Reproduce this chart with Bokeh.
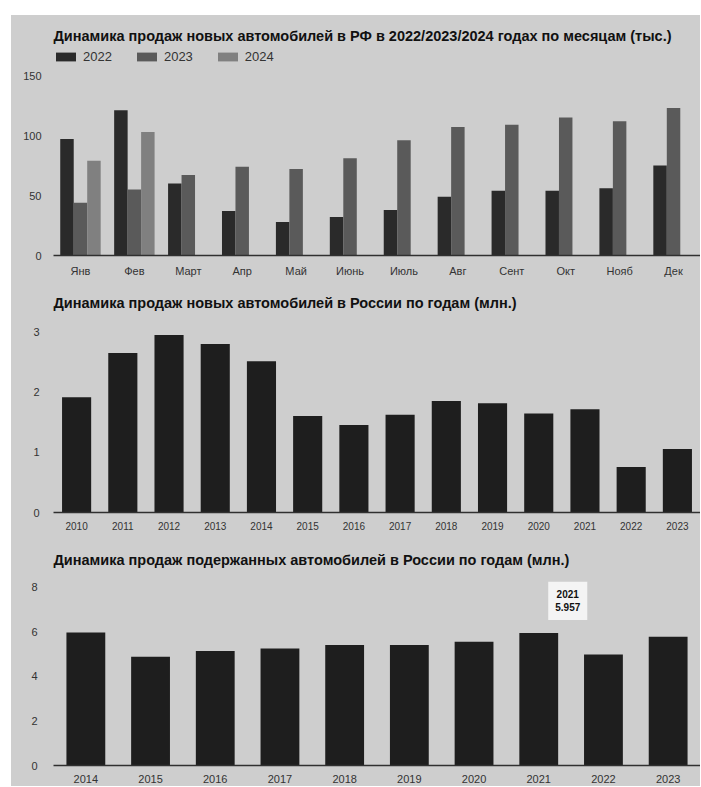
import math
from bokeh.plotting import figure
from bokeh.models import (ColumnDataSource, FactorRange, Range1d, FixedTicker,
                          Legend, LegendItem, Title, Label, Spacer)
from bokeh.layouts import column, row
from bokeh.transform import dodge
from bokeh.embed import file_html
from bokeh.resources import INLINE

# ---------------- data ----------------
months = ["Янв", "Фев", "Март", "Апр", "Май", "Июнь", "Июль", "Авг", "Сент", "Окт", "Нояб", "Дек"]
sales_2022 = [97, 121, 60, 37, 28, 32, 38, 49, 54, 54, 56, 75]
sales_2023 = [44, 55, 67, 74, 72, 81, 96, 107, 109, 115, 112, 123]
sales_2024 = [79, 103, float("nan"), float("nan"), float("nan"), float("nan"),
              float("nan"), float("nan"), float("nan"), float("nan"), float("nan"), float("nan")]
ticks_1 = [0, 50, 100, 150]

years_new = ["2010", "2011", "2012", "2013", "2014", "2015", "2016",
             "2017", "2018", "2019", "2020", "2021", "2022", "2023"]
new_sales = [1.92, 2.66, 2.96, 2.81, 2.52, 1.61, 1.46, 1.63, 1.86, 1.82, 1.65, 1.72, 0.76, 1.06]
ticks_2 = [0, 1, 2, 3]

years_used = ["2014", "2015", "2016", "2017", "2018", "2019", "2020", "2021", "2022", "2023"]
used_sales = [5.97, 4.89, 5.14, 5.26, 5.41, 5.41, 5.56, 5.957, 4.99, 5.78]
ticks_3 = [0, 2, 4, 6, 8]
tooltip_year = "2021"

title_1 = "Динамика продаж новых автомобилей в РФ в 2022/2023/2024 годах по месяцам (тыс.)"
title_2 = "Динамика продаж новых автомобилей в России по годам (млн.)"
title_3 = "Динамика продаж подержанных автомобилей в России по годам (млн.)"

# ---------------- style ----------------
BG = "#cecece"
FONT = "Liberation Sans"
C_DARK = "#2a2a2a"
C_MID = "#5a5a5a"
C_LIGHT = "#808080"
C_BAR = "#1e1e1e"
TXT = "#333333"
W = 689


def base(height, y_end, ticks, factors, b_top, b_bottom, xfs, ystand):
    p = figure(width=W, height=height,
               x_range=FactorRange(*factors, range_padding=0, factor_padding=0),
               y_range=Range1d(0, y_end),
               output_backend="svg", toolbar_location=None,
               min_border_left=42, min_border_right=0,
               min_border_top=b_top, min_border_bottom=b_bottom,
               background_fill_color=BG, border_fill_color=BG,
               outline_line_color=None)
    p.xgrid.grid_line_color = None
    p.ygrid.grid_line_color = None
    p.yaxis.ticker = FixedTicker(ticks=ticks)
    p.yaxis.axis_line_color = None
    p.yaxis.major_tick_line_color = None
    p.yaxis.minor_tick_line_color = None
    p.yaxis.major_label_text_font = FONT
    p.yaxis.major_label_text_font_size = "11px"
    p.yaxis.major_label_text_color = TXT
    p.yaxis.major_label_standoff = ystand
    p.xaxis.axis_line_color = "#303030"
    p.xaxis.axis_line_width = 1.5
    p.xaxis.major_tick_line_color = None
    p.xaxis.minor_tick_line_color = None
    p.xaxis.major_label_text_font = FONT
    p.xaxis.major_label_text_font_size = xfs
    p.xaxis.major_label_text_color = TXT
    p.xaxis.major_label_standoff = 3
    return p


def add_title(p, text, standoff):
    p.add_layout(Title(text=text, align="left", text_font=FONT, text_font_size="14.5px",
                       text_font_style="bold", text_color="#111111", standoff=standoff), "above")


# ---------------- chart 1 ----------------
src1 = ColumnDataSource(dict(month=months, y2022=sales_2022, y2023=sales_2023, y2024=sales_2024))
p1 = base(267, 171.7, ticks_1, months, 34, 27, "11px", 6)
r22 = p1.vbar(x=dodge("month", -0.25, range=p1.x_range), top="y2022", width=0.25,
              source=src1, fill_color=C_DARK, line_color=None)
r23 = p1.vbar(x=dodge("month", 0.0, range=p1.x_range), top="y2023", width=0.25,
              source=src1, fill_color=C_MID, line_color=None)
r24 = p1.vbar(x=dodge("month", 0.25, range=p1.x_range), top="y2024", width=0.25,
              source=src1, fill_color=C_LIGHT, line_color=None)
legend = Legend(items=[LegendItem(label="2022", renderers=[r22]),
                       LegendItem(label="2023", renderers=[r23]),
                       LegendItem(label="2024", renderers=[r24])],
                orientation="horizontal", location="top_left",
                glyph_width=25, glyph_height=11, label_standoff=5, spacing=22,
                padding=0, margin=0,
                label_text_font=FONT, label_text_font_size="13px", label_text_color=TXT,
                background_fill_alpha=0, border_line_alpha=0)
p1.add_layout(legend, "center")
add_title(p1, title_1, 12)

# ---------------- chart 2 ----------------
src2 = ColumnDataSource(dict(year=years_new, val=new_sales))
p2 = base(258, 3.333, ticks_2, years_new, 30, 28, "10px", 8)
p2.vbar(x="year", top="val", width=0.63, source=src2, fill_color=C_BAR, line_color=None)
add_title(p2, title_2, 4)

# ---------------- chart 3 ----------------
src3 = ColumnDataSource(dict(year=years_used, val=used_sales))
p3 = base(246, 8.76, ticks_3, years_used, 30, 21, "11px", 10)
p3.vbar(x="year", top="val", width=0.6, source=src3, fill_color=C_BAR, line_color=None)
add_title(p3, title_3, 6)
idx = years_used.index(tooltip_year)
p3.add_layout(Label(x=idx + 0.5, y=used_sales[idx], x_offset=29, y_offset=32,
                    text=f"{tooltip_year}\n{used_sales[idx]:.3f}",
                    text_align="center", text_baseline="middle",
                    text_font=FONT, text_font_size="10px", text_font_style="bold",
                    text_color="#111111", background_fill_color="#f4f4f4",
                    padding=7))

charts = column(p1, p2, p3, spacing=0, styles={"background-color": BG})
layout = row(Spacer(width=11), column(Spacer(height=15), charts, spacing=0), spacing=0)

open("out.html", "w").write(file_html(layout, INLINE))
